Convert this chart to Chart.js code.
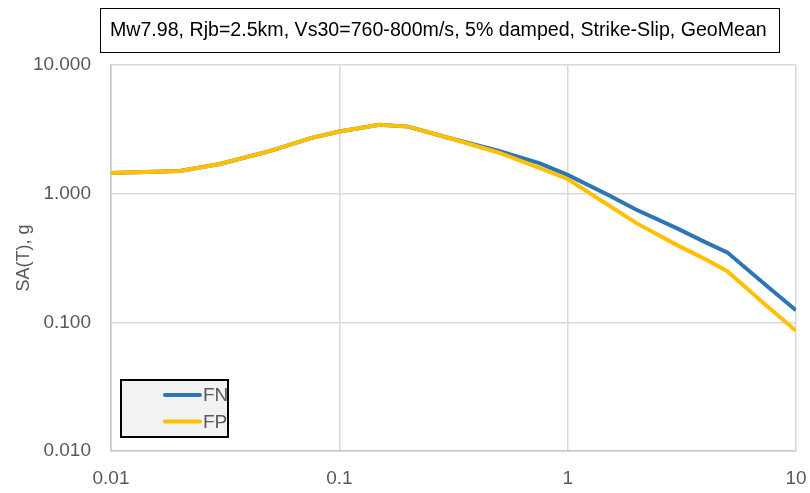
<!DOCTYPE html>
<html lang="en">
<head>
<meta charset="UTF-8">
<title>SA(T) FN / FP</title>
<script src="https://cdn.jsdelivr.net/npm/chart.js@4.4.5/dist/chart.umd.min.js"></script>
<style>
    body { margin: 0; background: #fff; }
    #wrap { width: 810px; height: 493px; position: relative; }
</style>
</head>
<body>
<div id="wrap"><canvas id="myChart"></canvas></div>
<script>
// periods (s) and spectral accelerations (g)
const periods  = [0.01, 0.02, 0.03, 0.05, 0.075, 0.1, 0.15, 0.2, 0.3, 0.5, 0.75, 1, 1.5, 2, 3, 4, 5, 7.5, 10];
const fnValues = [1.45, 1.50, 1.70, 2.15, 2.70, 3.04, 3.43, 3.32, 2.72, 2.15, 1.73, 1.40, 0.98, 0.75, 0.54, 0.42, 0.35, 0.19, 0.124];
const fpValues = [1.45, 1.50, 1.70, 2.15, 2.70, 3.04, 3.43, 3.32, 2.72, 2.08, 1.59, 1.30, 0.82, 0.59, 0.40, 0.31, 0.25, 0.133, 0.086];

const xTicks = [0.01, 0.1, 1, 10];
const xTickLabels = ['0.01', '0.1', '1', '10'];
const yTicks = [0.01, 0.1, 1, 10];
const yTickLabels = ['0.010', '0.100', '1.000', '10.000'];

const chartTitle = 'Mw7.98, Rjb=2.5km, Vs30=760-800m/s, 5% damped, Strike-Slip, GeoMean';
const yTitle = 'SA(T), g';

function toPoints(vals) {
    return periods.map((p, i) => ({ x: p, y: vals[i] }));
}

const tickFont = { family: '"Liberation Sans", Arial, sans-serif', size: 19 };

// title box + clipped legend box, like the excel sheet
const boxes = {
    id: 'boxes',
    afterDraw(chart) {
        const ctx = chart.ctx;
        ctx.save();
        ctx.fillStyle = '#fff';
        ctx.fillRect(100, 8, 679, 44);
        ctx.strokeStyle = '#000';
        ctx.lineWidth = 1;
        ctx.strokeRect(100.5, 8.5, 679, 44);
        ctx.fillStyle = '#000';
        ctx.font = '19.6px "Liberation Sans", Arial, sans-serif';
        ctx.textBaseline = 'middle';
        ctx.fillText(chartTitle, 110, 31);

        // legend
        const lx = 121, ly = 380, lw = 107, lh = 57;
        ctx.fillStyle = '#f2f2f2';
        ctx.fillRect(lx, ly, lw, lh);
        ctx.save();
        ctx.beginPath();
        ctx.rect(lx, ly, lw, lh);
        ctx.clip();
        ctx.font = '19px "Liberation Sans", Arial, sans-serif';
        ctx.textBaseline = 'middle';
        chart.data.datasets.forEach((ds, i) => {
            const y = 395 + i * 26.5;
            ctx.strokeStyle = ds.borderColor;
            ctx.lineWidth = 4;
            ctx.lineCap = 'round';
            ctx.beginPath();
            ctx.moveTo(165, y);
            ctx.lineTo(200, y);
            ctx.stroke();
            ctx.fillStyle = '#595959';
            ctx.fillText(ds.label, 203, y + 1);
        });
        ctx.restore();
        ctx.strokeStyle = '#000';
        ctx.lineWidth = 2;
        ctx.strokeRect(lx, ly, lw, lh);
        ctx.restore();
    }
};

const ctx = document.getElementById('myChart').getContext('2d');
const myChart = new Chart(ctx, {
    type: 'line',
    data: {
        datasets: [{
            label: 'FN',
            data: toPoints(fnValues),
            borderColor: '#2e75b6',
            borderWidth: 4,
            pointRadius: 0,
            tension: 0,
            order: 1
        }, {
            label: 'FP',
            data: toPoints(fpValues),
            borderColor: '#ffc000',
            borderWidth: 4,
            pointRadius: 0,
            tension: 0,
            order: 0
        }]
    },
    options: {
        responsive: true,
        maintainAspectRatio: false,
        animation: false,
        layout: { padding: { top: 65, right: 14, left: 0, bottom: 0 } },
        scales: {
            x: {
                type: 'logarithmic',
                min: 0.01,
                max: 10,
                afterBuildTicks: (s) => { s.ticks = xTicks.map(v => ({ value: v })); },
                afterFit: (s) => { s.height = 42; s.paddingLeft = 0; s.paddingRight = 0; },
                ticks: {
                    color: '#595959',
                    font: tickFont,
                    padding: 16,
                    maxRotation: 0,
                    autoSkip: false,
                    callback: (v) => xTickLabels[xTicks.indexOf(v)]
                },
                grid: { color: '#d9d9d9', lineWidth: 1.5, drawTicks: false },
                border: { color: '#c8c8c8', width: 1.5 }
            },
            y: {
                type: 'logarithmic',
                min: 0.01,
                max: 10,
                afterBuildTicks: (s) => { s.ticks = yTicks.map(v => ({ value: v })); },
                afterFit: (s) => { s.width = 111; s.paddingTop = 0; s.paddingBottom = 0; },
                ticks: {
                    color: '#595959',
                    font: tickFont,
                    padding: 20,
                    autoSkip: false,
                    callback: (v) => yTickLabels[yTicks.indexOf(v)]
                },
                title: {
                    display: true,
                    text: yTitle,
                    color: '#595959',
                    font: { family: '"Liberation Sans", Arial, sans-serif', size: 18 },
                    padding: { top: 13, bottom: 0 }
                },
                grid: { color: '#d9d9d9', lineWidth: 1.5, drawTicks: false },
                border: { color: '#c8c8c8', width: 1.5 }
            }
        },
        plugins: {
            legend: { display: false },
            title: { display: false },
            tooltip: { enabled: false }
        }
    },
    plugins: [boxes]
});
</script>
</body>
</html>
